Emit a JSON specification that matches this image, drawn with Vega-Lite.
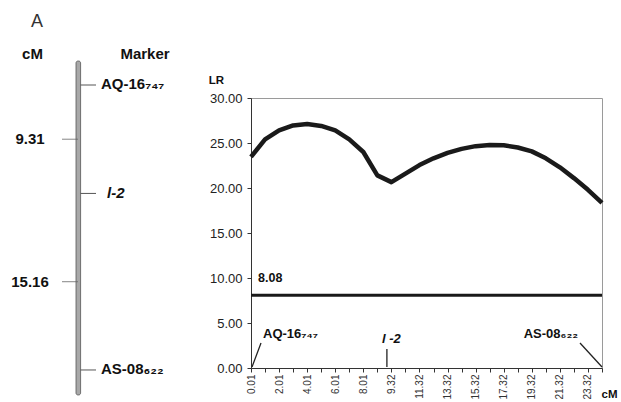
{
  "$schema": "https://vega.github.io/schema/vega-lite/v6.json",
  "autosize": "none",
  "padding": {"left": 0, "top": 98, "right": 621, "bottom": 304},
  "background": "white",
  "bounds": "flush",
  "spacing": 71,
  "config": {
    "font": "Liberation Sans",
    "text": {"font": "Liberation Sans"},
    "axis": {"labelFont": "Liberation Sans", "titleFont": "Liberation Sans"},
    "title": {"font": "Liberation Sans"}
  },
  "datasets": {
    "lod": [
      {"cM": "0.01", "LR": 23.45}, {"cM": "1.01", "LR": 25.4}, {"cM": "2.01", "LR": 26.4},
      {"cM": "3.01", "LR": 26.95}, {"cM": "4.01", "LR": 27.1}, {"cM": "5.01", "LR": 26.9},
      {"cM": "6.01", "LR": 26.4}, {"cM": "7.01", "LR": 25.4}, {"cM": "8.01", "LR": 24.0},
      {"cM": "9.01", "LR": 21.4}, {"cM": "9.32", "LR": 20.65}, {"cM": "10.32", "LR": 21.6},
      {"cM": "11.32", "LR": 22.55}, {"cM": "12.32", "LR": 23.3}, {"cM": "13.32", "LR": 23.9},
      {"cM": "14.32", "LR": 24.35}, {"cM": "15.32", "LR": 24.65}, {"cM": "16.32", "LR": 24.78},
      {"cM": "17.32", "LR": 24.75}, {"cM": "18.32", "LR": 24.5}, {"cM": "19.32", "LR": 24.07},
      {"cM": "20.32", "LR": 23.3}, {"cM": "21.32", "LR": 22.3}, {"cM": "22.32", "LR": 21.1},
      {"cM": "23.32", "LR": 19.8}, {"cM": "24.47", "LR": 18.35}
    ],
    "threshold": [{"LR": 8.08, "cM": "0.01"}],
    "markers": [
      {"marker": "AQ-16₇₄₇", "chartLabel": "AQ-16₇₄₇", "mapPos": 0, "cM": "0.01"},
      {"marker": "l-2", "chartLabel": "l -2", "mapPos": 9.31, "cM": "9.32"},
      {"marker": "AS-08₆₂₂", "chartLabel": "AS-08₆₂₂", "mapPos": 24.47, "cM": "24.47"}
    ],
    "intervals": [
      {"from": "AQ-16", "to": "l-2", "length": 9.31, "mid": 4.655},
      {"from": "l-2", "to": "AS-08", "length": 15.16, "mid": 16.89}
    ],
    "chromosome": [{"group": "A", "start": 0, "end": 24.47}]
  },
  "hconcat": [
    {
      "width": 180,
      "height": 270,
      "view": {"stroke": null},
      "title": {"text": "A", "anchor": "start", "frame": "group", "dx": 31, "fontSize": 18, "fontWeight": "normal", "color": "#333", "baseline": "alphabetic", "offset": 1},
      "layer": [
        {
          "data": {"name": "chromosome"},
          "mark": {"type": "rect", "fill": "#a8a8a8", "stroke": "#555", "strokeWidth": 0.8, "cornerRadius": 2, "yOffset": -24, "y2Offset": 25},
          "encoding": {
            "x": {"datum": -0.23, "type": "quantitative", "scale": {"domain": [-7.83, 10.17], "nice": false, "zero": false},
              "axis": {"orient": "top", "values": [-4.63, 6.62], "labelExpr": "datum.value < 0 ? 'cM' : 'Marker'", "labelFontSize": 15, "labelFontWeight": "bold", "labelColor": "#111", "labelBaseline": "alphabetic", "labelPadding": 40, "ticks": false, "domain": false, "grid": false, "title": null, "labelAlign": "center"}},
            "x2": {"datum": 0.23},
            "y": {"field": "start", "type": "quantitative", "scale": {"domain": [1.116, 24.30], "reverse": true, "nice": false, "zero": false}, "axis": null},
            "y2": {"field": "end"}
          }
        },
        {
          "data": {"name": "intervals"},
          "mark": {"type": "rule", "stroke": "#666", "strokeWidth": 0.8},
          "encoding": {
            "x": {"datum": -1.63, "type": "quantitative"},
            "x2": {"datum": -0.03},
            "y": {"field": "mid", "type": "quantitative"}
          }
        },
        {
          "data": {"name": "intervals"},
          "mark": {"type": "text", "fontSize": 15, "fontWeight": "bold", "color": "#111", "align": "center", "baseline": "middle"},
          "encoding": {
            "x": {"datum": -4.83, "type": "quantitative"},
            "y": {"field": "mid", "type": "quantitative"},
            "text": {"field": "length", "type": "quantitative", "format": ".2f"}
          }
        },
        {
          "data": {"name": "markers"},
          "mark": {"type": "rule", "stroke": "#555", "strokeWidth": 1},
          "encoding": {
            "x": {"datum": 0.22, "type": "quantitative"},
            "x2": {"datum": 1.77},
            "y": {"field": "mapPos", "type": "quantitative"}
          }
        },
        {
          "data": {"name": "markers"},
          "transform": [{"filter": "datum.marker != 'l-2'"}],
          "mark": {"type": "text", "fontSize": 15, "fontWeight": "bold", "color": "#111", "align": "left", "baseline": "middle", "dy": -1},
          "encoding": {
            "x": {"datum": 2.27, "type": "quantitative"},
            "y": {"field": "mapPos", "type": "quantitative"},
            "text": {"field": "marker"}
          }
        },
        {
          "data": {"name": "markers"},
          "transform": [{"filter": "datum.marker == 'l-2'"}],
          "mark": {"type": "text", "fontSize": 15, "fontWeight": "bold", "fontStyle": "italic", "color": "#111", "align": "left", "baseline": "middle", "dx": 6},
          "encoding": {
            "x": {"datum": 2.27, "type": "quantitative"},
            "y": {"field": "mapPos", "type": "quantitative"},
            "text": {"field": "marker"}
          }
        }
      ]
    },
    {
      "width": 351,
      "height": 270,
      "view": {"stroke": "#9a9a9a", "strokeWidth": 1},
      "layer": [
        {
          "data": {"name": "lod"},
          "mark": {"type": "line", "stroke": "#1a1a1a", "strokeWidth": 4.5, "strokeJoin": "round"},
          "encoding": {
            "x": {"field": "cM", "type": "ordinal", "sort": null,
              "scale": {"type": "point", "padding": 0, "domain": ["0.01","1.01","2.01","3.01","4.01","5.01","6.01","7.01","8.01","9.01","9.32","10.32","11.32","12.32","13.32","14.32","15.32","16.32","17.32","18.32","19.32","20.32","21.32","22.32","23.32","24.47"]},
              "axis": {"labelAngle": -90, "labelFontSize": 10, "labelColor": "#333", "labelPadding": 2, "tickSize": 4, "tickColor": "#333", "domainColor": "#333", "labelOverlap": false,
                "labelExpr": "indexof(['0.01','2.01','4.01','6.01','8.01','9.32','11.32','13.32','15.32','17.32','19.32','21.32','23.32'], datum.value) >= 0 ? datum.label : ''",
                "title": "cM", "titleFontSize": 11.5, "titleFontWeight": "bold", "titleColor": "#111", "titleAngle": 0, "titleX": 358, "titleY": 26, "titleAlign": "center", "titleBaseline": "middle"}},
            "y": {"field": "LR", "type": "quantitative", "scale": {"domain": [0, 30], "nice": false},
              "axis": {"values": [0, 5, 10, 15, 20, 25, 30], "format": ".2f", "labelFontSize": 13, "labelColor": "#222", "tickSize": 4, "tickColor": "#333", "domainColor": "#333", "labelPadding": 5, "grid": false,
                "title": "LR", "titleFontSize": 11.5, "titleFontWeight": "bold", "titleColor": "#111", "titleAngle": 0, "titleX": -35, "titleY": -18, "titleAlign": "center", "titleBaseline": "middle"}}
          }
        },
        {
          "data": {"name": "threshold"},
          "mark": {"type": "rule", "stroke": "#1a1a1a", "strokeWidth": 3},
          "encoding": {
            "y": {"field": "LR", "type": "quantitative"}
          }
        },
        {
          "data": {"name": "threshold"},
          "mark": {"type": "text", "fontSize": 12.5, "fontWeight": "bold", "color": "#111", "align": "left", "baseline": "middle", "dx": 7, "dy": -17},
          "encoding": {
            "x": {"field": "cM", "type": "ordinal"},
            "y": {"field": "LR", "type": "quantitative"},
            "text": {"field": "LR", "type": "quantitative", "format": ".2f"}
          }
        },
        {
          "data": {"name": "markers"},
          "transform": [{"filter": "datum.cM == '0.01'"}],
          "mark": {"type": "rule", "stroke": "#222", "strokeWidth": 1.3, "xOffset": 1, "yOffset": -1, "x2Offset": 10, "y2Offset": -25},
          "encoding": {
            "x": {"field": "cM", "type": "ordinal"},
            "x2": {"field": "cM"},
            "y": {"datum": 0, "type": "quantitative"},
            "y2": {"datum": 0}
          }
        },
        {
          "data": {"name": "markers"},
          "transform": [{"filter": "datum.cM == '9.32'"}],
          "mark": {"type": "rule", "stroke": "#222", "strokeWidth": 1.3, "xOffset": -4.5, "yOffset": -1, "x2Offset": -4.5, "y2Offset": -19},
          "encoding": {
            "x": {"field": "cM", "type": "ordinal"},
            "x2": {"field": "cM"},
            "y": {"datum": 0, "type": "quantitative"},
            "y2": {"datum": 0}
          }
        },
        {
          "data": {"name": "markers"},
          "transform": [{"filter": "datum.cM == '24.47'"}],
          "mark": {"type": "rule", "stroke": "#222", "strokeWidth": 1.3, "xOffset": 0, "yOffset": -1, "x2Offset": -22, "y2Offset": -25},
          "encoding": {
            "x": {"field": "cM", "type": "ordinal"},
            "x2": {"field": "cM"},
            "y": {"datum": 0, "type": "quantitative"},
            "y2": {"datum": 0}
          }
        },
        {
          "data": {"name": "markers"},
          "transform": [{"filter": "datum.cM == '0.01'"}],
          "mark": {"type": "text", "fontSize": 13, "fontWeight": "bold", "color": "#111", "align": "left", "baseline": "middle", "dx": 12, "dy": -34},
          "encoding": {
            "x": {"field": "cM", "type": "ordinal"},
            "y": {"datum": 0, "type": "quantitative"},
            "text": {"field": "chartLabel"}
          }
        },
        {
          "data": {"name": "markers"},
          "transform": [{"filter": "datum.cM == '9.32'"}],
          "mark": {"type": "text", "fontSize": 13, "fontWeight": "bold", "fontStyle": "italic", "color": "#111", "align": "center", "baseline": "middle", "dx": 0, "dy": -29},
          "encoding": {
            "x": {"field": "cM", "type": "ordinal"},
            "y": {"datum": 0, "type": "quantitative"},
            "text": {"field": "chartLabel"}
          }
        },
        {
          "data": {"name": "markers"},
          "transform": [{"filter": "datum.cM == '24.47'"}],
          "mark": {"type": "text", "fontSize": 13, "fontWeight": "bold", "color": "#111", "align": "right", "baseline": "middle", "dx": -24, "dy": -34},
          "encoding": {
            "x": {"field": "cM", "type": "ordinal"},
            "y": {"datum": 0, "type": "quantitative"},
            "text": {"field": "chartLabel"}
          }
        }
      ]
    }
  ]
}
